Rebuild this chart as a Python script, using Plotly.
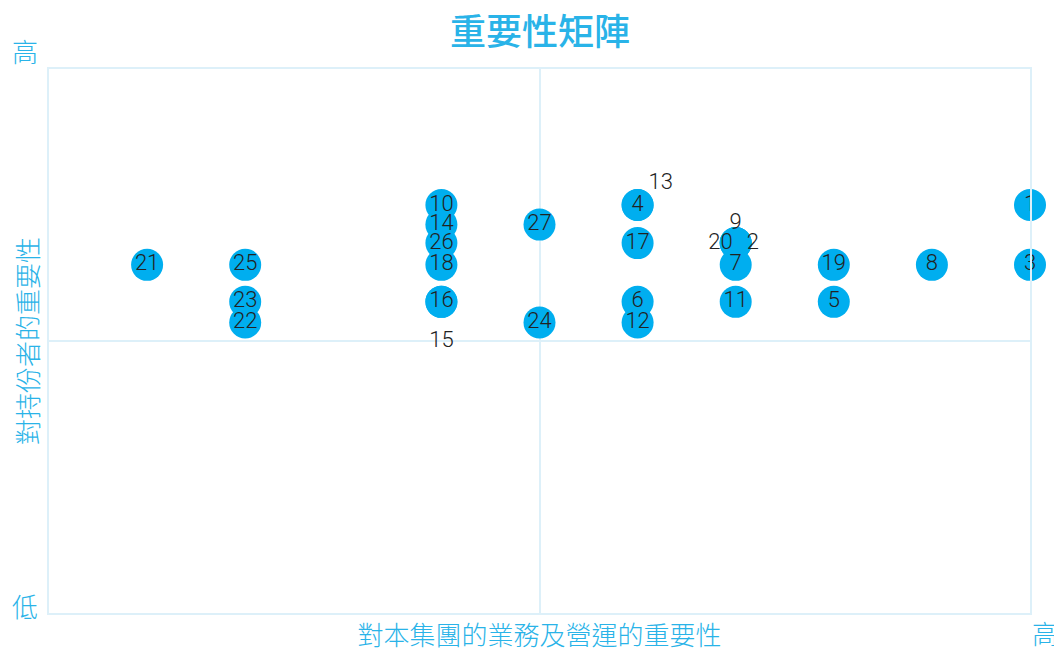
import plotly.graph_objects as go

# ---- data ----
labels = ["1", "2", "3", "4", "5", "6", "7", "8", "9", "10", "11", "12", "13", "14",
          "15", "16", "17", "18", "19", "20", "21", "22", "23", "24", "25", "26", "27"]
business_importance = [5.0, 3.5, 5.0, 3.0, 4.0, 3.0, 3.5, 4.5, 3.5, 2.0, 3.5, 3.0, 3.0, 2.0,
                       2.0, 2.0, 3.0, 2.0, 4.0, 3.5, 0.5, 1.0, 1.0, 2.5, 1.0, 2.0, 2.5]
stakeholder_importance = [3.75, 3.40, 3.20, 3.75, 2.86, 2.86, 3.20, 3.20, 3.40, 3.75, 2.86, 2.67, 3.75, 3.57,
                          2.86, 2.86, 3.40, 3.20, 3.20, 3.40, 3.20, 2.67, 2.86, 2.67, 3.20, 3.40, 3.57]

title_text = "重要性矩陣"
x_title = "對本集團的業務及營運的重要性"
y_title = "對持份者的重要性"
high_text = "高"
low_text = "低"

# ---- label placement for overlapping points (style, not data) ----
# label -> (textposition, invisible marker size used only to set the text offset)
offset_labels = {"2": ("middle right", 16), "9": ("top center", 12), "20": ("middle left", 3.2),
                 "13": ("top right", 16), "15": ("bottom center", 45)}

BLUE = "#00AEEF"
TXT_BLUE = "#29B3E8"
GRID = "#DDF0F9"
CJK = "Noto Sans CJK TC"
NUM_FONT = "Roboto, Lato, Liberation Sans, sans-serif"
NUM_SIZE = 22

main_text = ["" if l in offset_labels else l for l in labels]
off_idx = [i for i, l in enumerate(labels) if l in offset_labels]

fig = go.Figure()
fig.add_trace(go.Scatter(
    x=business_importance, y=stakeholder_importance,
    mode="markers+text", text=main_text, textposition="middle center",
    marker=dict(size=32, color=BLUE, line=dict(width=0)),
    textfont=dict(family=NUM_FONT, size=NUM_SIZE, color="#222222", weight=300),
    cliponaxis=False, hovertext=labels, hoverinfo="text", showlegend=False,
))
fig.add_trace(go.Scatter(
    x=[business_importance[i] for i in off_idx],
    y=[stakeholder_importance[i] for i in off_idx],
    mode="markers+text",
    text=[labels[i] for i in off_idx],
    textposition=[offset_labels[labels[i]][0] for i in off_idx],
    marker=dict(size=[offset_labels[labels[i]][1] for i in off_idx], color="rgba(0,0,0,0)",
                line=dict(width=0)),
    textfont=dict(family=NUM_FONT, size=NUM_SIZE, color="#222222", weight=300),
    cliponaxis=False, hoverinfo="text", showlegend=False,
))

axis_common = dict(showline=True, mirror=True, linecolor=GRID, linewidth=2,
                   showgrid=True, gridcolor=GRID, gridwidth=2, zeroline=False,
                   showticklabels=False, ticks="", tickvals=[2.5], fixedrange=True,
                   automargin=False)

fig.update_layout(
    width=1054, height=644,
    margin=dict(l=41, r=32, t=61, b=39),
    paper_bgcolor="white", plot_bgcolor="white",
    xaxis=dict(range=[0, 5], **axis_common,
               title=dict(text=x_title, font=dict(family=CJK, size=26, color=TXT_BLUE, weight=300), standoff=16)),
    yaxis=dict(range=[0, 5], **axis_common,
               title=dict(text=y_title, font=dict(family=CJK, size=26, color=TXT_BLUE, weight=300), standoff=10)),
    font=dict(family=CJK),
)

fig.add_annotation(text=title_text, xref="paper", yref="paper", x=0.5, y=1, yshift=40,
                   showarrow=False, font=dict(family=CJK, size=36, color=TXT_BLUE, weight=500),
                   xanchor="center", yanchor="middle")
fig.add_annotation(text=high_text, xref="paper", yref="paper", x=0, y=1, xshift=-24, yshift=19,
                   showarrow=False, font=dict(family=CJK, size=26, color=TXT_BLUE, weight=300),
                   xanchor="center", yanchor="middle", textangle=0)
fig.add_annotation(text=low_text, xref="paper", yref="paper", x=0, y=0, xshift=-24, yshift=8,
                   showarrow=False, font=dict(family=CJK, size=26, color=TXT_BLUE, weight=300),
                   xanchor="center", yanchor="middle", textangle=0)
fig.add_annotation(text=high_text, xref="paper", yref="paper", x=1, y=0, xshift=15, yshift=-19,
                   showarrow=False, font=dict(family=CJK, size=26, color=TXT_BLUE, weight=300),
                   xanchor="center", yanchor="middle", textangle=0)

fig.write_html("out.html")
